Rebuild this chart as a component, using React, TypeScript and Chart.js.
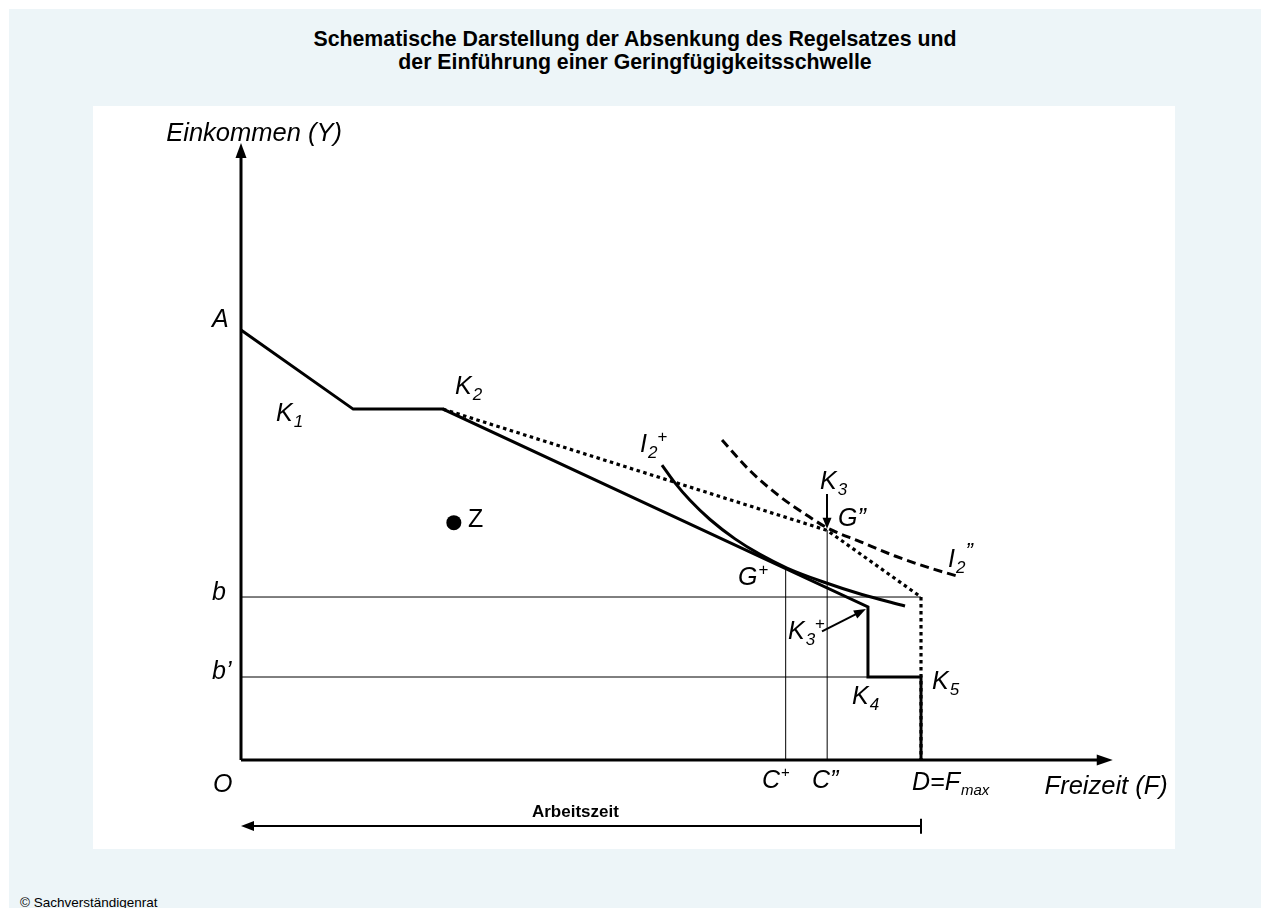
import React, { useEffect, useRef } from "react";
import { Chart, registerables } from "chart.js";

Chart.register(...registerables);

const FONT = '"Liberation Sans", Arial, Helvetica, sans-serif';

// ---- schematic data (units: D = F_max = 100 on the Freizeit axis, A = 100 on the Einkommen axis)
// new budget line K1 -> K2 -> K3+ -> K4 -> K5 -> D
const budgetX = [0, 16.5, 29.7, 92.2, 92.2, 100, 100];
const budgetY = [100, 81.6, 81.6, 35.6, 19.3, 19.3, 0];
// former budget line (dotted) K2 -> G'' -> D
const oldBudgetX = [29.7, 86.2, 100, 100];
const oldBudgetY = [81.6, 53.4, 37.9, 0];
// indifference curve I2+
const i2PlusX = [61.91, 63.82, 66.03, 68.97, 72.65, 76.32, 80.29, 85.44, 91.32, 97.65];
const i2PlusY = [68.6, 64.44, 60.4, 55.93, 51.42, 47.81, 44.65, 41.51, 38.49, 35.81];
// indifference curve I2''
const i2DoubleX = [70.74, 74.85, 79.26, 82.94, 86.18, 91.03, 96.18, 101.32, 105.29];
const i2DoubleY = [74.42, 67.28, 61.26, 57.23, 54.0, 50.79, 47.44, 44.65, 42.79];
// reference levels
const levelB = 37.9;
const levelBPrime = 19.3;
const cPlus = 80.1;
const gPlusY = 44.9;
const cDouble = 86.2;
const gDoubleY = 53.5;
const fMax = 100;
const pointZX = [31.3];
const pointZY = [55.2];
const axisXEnd = 128.2;
const axisYEnd = 143.5;
const workY = -15.35;

// ---- text annotations (schematic units)
type Lbl = {
  text: string;
  sub?: string;
  sup?: string;
  x: number;
  y: number;
  align?: "left" | "right";
  italic?: boolean;
  bold?: boolean;
  size?: number;
  subSize?: number;
  supSize?: number;
  supItalic?: boolean;
};
const labels: Lbl[] = [
  { text: "Einkommen (Y)", x: -11.0, y: 145.6, size: 25.5 },
  { text: "A", x: -4.26, y: 102.33 },
  { text: "K", sub: "1", x: 5.15, y: 80.47 },
  { text: "K", sub: "2", x: 31.47, y: 86.74 },
  { text: "I", sub: "2", sup: "+", x: 58.68, y: 73.26, supItalic: false },
  { text: "K", sub: "3", x: 85.15, y: 64.65 },
  { text: "G\u201D", x: 87.79, y: 56.05 },
  { text: "I", sub: "2", sup: "\u201D", x: 103.97, y: 46.51, supSize: 22 },
  { text: "G", sup: "+", x: 73.09, y: 42.33, supItalic: false },
  { text: "K", sub: "3", sup: "+", x: 80.44, y: 29.77, supItalic: false },
  { text: "K", sub: "4", x: 89.85, y: 14.65 },
  { text: "K", sub: "5", x: 101.62, y: 18.14 },
  { text: "Z", x: 33.38, y: 55.81, italic: false },
  { text: "b", x: -4.26, y: 38.84 },
  { text: "b\u2019", x: -4.26, y: 20.47 },
  { text: "O", x: -4.12, y: -5.81 },
  { text: "C", sup: "+", x: 76.62, y: -4.88, supItalic: false, supSize: 15 },
  { text: "C\u201D", x: 83.97, y: -4.88 },
  { text: "D=F", sub: "max", x: 98.68, y: -5.35, subSize: 15 },
  { text: "Freizeit (F)", x: 136.3, y: -6.28, align: "right", size: 25.5 },
  { text: "Arbeitszeit", x: 42.79, y: -12.09, italic: false, bold: true, size: 17 },
];

const pts = (xs: number[], ys: number[]) => xs.map((x, i) => ({ x, y: ys[i] }));

const overlay = {
  id: "schemaOverlay",
  afterDatasetsDraw(chart: any) {
    const ctx: CanvasRenderingContext2D = chart.ctx;
    const xs = chart.scales.x;
    const ys = chart.scales.y;
    const px = (v: number) => xs.getPixelForValue(v);
    const py = (v: number) => ys.getPixelForValue(v);

    const head = (tx: number, ty: number, dx: number, dy: number, len: number, half: number) => {
      const l = Math.hypot(dx, dy);
      const ux = dx / l;
      const uy = dy / l;
      const bx = tx - ux * len;
      const by = ty - uy * len;
      ctx.beginPath();
      ctx.moveTo(tx, ty);
      ctx.lineTo(bx - uy * half, by + ux * half);
      ctx.lineTo(bx + uy * half, by - ux * half);
      ctx.closePath();
      ctx.fill();
    };
    const arrow = (x1: number, y1: number, x2: number, y2: number, w: number, len: number, half: number) => {
      const X1 = px(x1), Y1 = py(y1), X2 = px(x2), Y2 = py(y2);
      const l = Math.hypot(X2 - X1, Y2 - Y1);
      const ux = (X2 - X1) / l, uy = (Y2 - Y1) / l;
      ctx.beginPath();
      ctx.lineWidth = w;
      ctx.moveTo(X1, Y1);
      ctx.lineTo(X2 - ux * (len - 2), Y2 - uy * (len - 2));
      ctx.stroke();
      head(X2, Y2, X2 - X1, Y2 - Y1, len, half);
    };

    ctx.save();
    ctx.fillStyle = "#000";
    ctx.strokeStyle = "#000";
    // axis arrow heads
    head(px(axisXEnd), py(0), 1, 0, 16, 5.5);
    head(px(0), py(axisYEnd), 0, -1, 15, 5.5);
    // Arbeitszeit arrow head
    head(px(0), py(workY), -1, 0, 13, 5);
    // K3 and K3+ pointer arrows
    arrow(86.18, 61.86, 86.18, 53.8, 2, 11, 4.5);
    arrow(85.44, 29.9, 91.9, 35.1, 2, 12, 4.5);

    // labels
    ctx.textBaseline = "middle";
    for (const l of labels) {
      const size = l.size ?? 25;
      const ital = l.italic === false ? "normal" : "italic";
      const wt = l.bold ? "bold" : "normal";
      ctx.font = `${ital} ${wt} ${size}px ${FONT}`;
      let x = px(l.x);
      const y = py(l.y);
      if (l.align === "right") {
        ctx.textAlign = "right";
        ctx.fillText(l.text, x, y);
        continue;
      }
      ctx.textAlign = "left";
      ctx.fillText(l.text, x, y);
      x += ctx.measureText(l.text).width + 1;
      if (l.sub) {
        ctx.font = `italic normal ${l.subSize ?? 17}px ${FONT}`;
        ctx.fillText(l.sub, x, y + 8);
        x += ctx.measureText(l.sub).width;
      }
      if (l.sup) {
        const si = l.supItalic === false ? "normal" : "italic";
        ctx.font = `${si} normal ${l.supSize ?? 17}px ${FONT}`;
        ctx.fillText(l.sup, x, y - 8);
      }
    }
    ctx.restore();
  },
};

export default function App() {
  const ref = useRef<HTMLCanvasElement | null>(null);

  useEffect(() => {
    if (!ref.current) return;
    const black = "#000000";
    const line = (data: any[], width: number, extra: any = {}) => ({
      data,
      showLine: true,
      borderColor: black,
      backgroundColor: black,
      borderWidth: width,
      pointRadius: 0,
      pointHoverRadius: 0,
      tension: 0,
      borderCapStyle: "butt",
      borderJoinStyle: "miter",
      ...extra,
    });
    const chart = new Chart(ref.current, {
      type: "scatter",
      data: {
        datasets: [
          line(pts(budgetX, budgetY), 3),
          line(pts(i2PlusX, i2PlusY), 3, { cubicInterpolationMode: "monotone" }),
          line(pts(i2DoubleX, i2DoubleY), 3, { cubicInterpolationMode: "monotone", borderDash: [9, 5] }),
          line(pts(oldBudgetX, oldBudgetY), 3.2, { borderDash: [3.5, 3.5] }),
          line(pts([0, fMax], [levelB, levelB]), 1),
          line(pts([0, fMax], [levelBPrime, levelBPrime]), 1),
          line(pts([cPlus, cPlus], [0, gPlusY]), 1),
          line(pts([cDouble, cDouble], [0, gDoubleY]), 1),
          line(pts([0, axisXEnd - 1.8], [0, 0]), 3),
          line(pts([0, 0], [0, axisYEnd - 2.8]), 3),
          line(pts([1.6, fMax], [workY, workY]), 2),
          line(pts([fMax, fMax], [workY + 1.7, workY - 1.8]), 2),
          {
            data: pts(pointZX, pointZY),
            showLine: false,
            pointRadius: 7.5,
            pointHoverRadius: 7.5,
            backgroundColor: black,
            borderColor: black,
            borderWidth: 0,
          },
        ],
      },
      options: {
        animation: false,
        responsive: false,
        maintainAspectRatio: false,
        events: [],
        layout: { padding: 0, autoPadding: false },
        plugins: {
          legend: { display: false },
          tooltip: { enabled: false },
          title: { display: false },
        },
        scales: {
          x: { type: "linear", min: -21.765, max: 137.353, display: false },
          y: { type: "linear", min: -20.698, max: 152.093, display: false },
        },
      },
      plugins: [overlay],
    } as any);
    return () => chart.destroy();
  }, []);

  return (
    <div>
      <div
        style={{
          position: "absolute",
          left: 9,
          top: 9,
          width: 1252,
          height: 899,
          background: "#edf5f8",
          overflow: "hidden",
          fontFamily: FONT,
        }}
      >
        <div
          style={{
            position: "absolute",
            left: 0,
            top: 19,
            width: 1252,
            textAlign: "center",
            fontWeight: "bold",
            fontSize: 21.3,
            lineHeight: "23px",
            color: "#000",
          }}
        >
          Schematische Darstellung der Absenkung des Regelsatzes und
          <br />
          der Einführung einer Geringfügigkeitsschwelle
        </div>
        <div
          style={{
            position: "absolute",
            left: 84,
            top: 97,
            width: 1082,
            height: 743,
            background: "#ffffff",
          }}
        >
          <canvas ref={ref} width={1082} height={743} style={{ display: "block", width: 1082, height: 743 }} />
        </div>
        <div
          style={{
            position: "absolute",
            left: 11,
            top: 887,
            fontSize: 13.5,
            lineHeight: "14px",
            color: "#000",
            whiteSpace: "nowrap",
          }}
        >
          © Sachverständigenrat
        </div>
      </div>
    </div>
  );
}
